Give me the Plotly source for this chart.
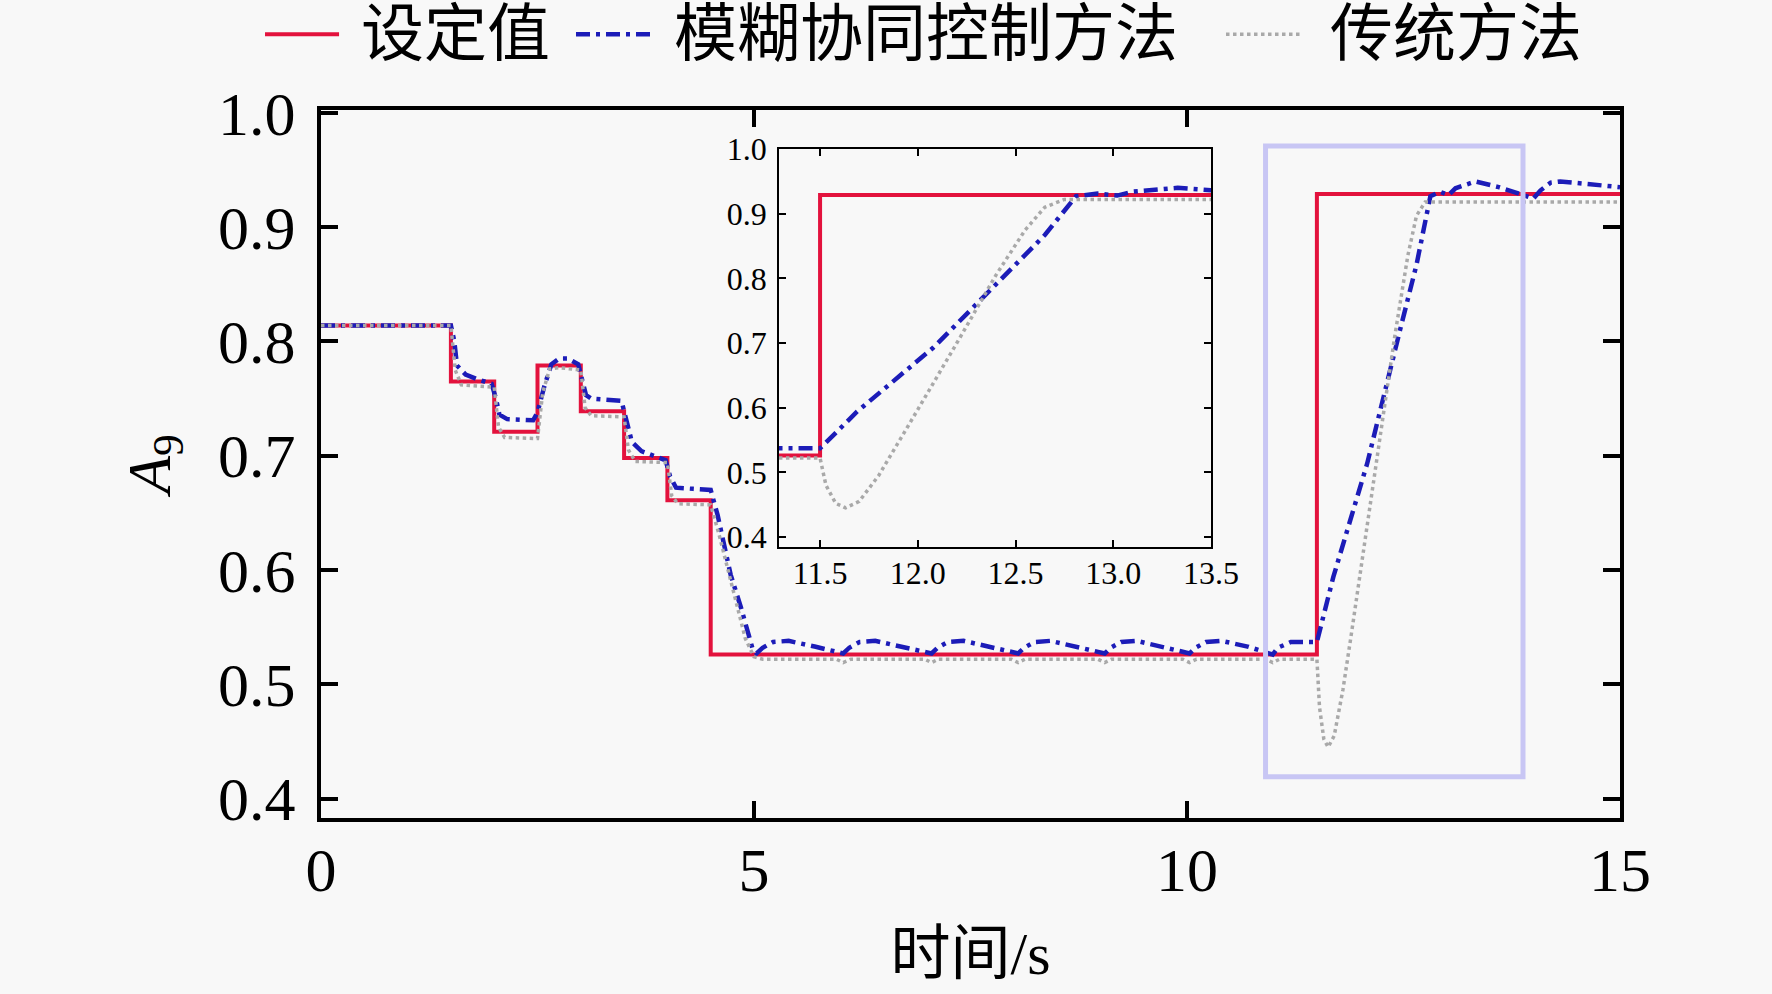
import plotly.graph_objects as go

# setpoint (piecewise constant)
set_t = [0, 1.5, 2.0, 2.5, 3.0, 3.5, 4.0, 4.5, 11.5, 15]
set_v = [0.814, 0.765, 0.721, 0.779, 0.739, 0.698, 0.661, 0.526, 0.929, 0.929]

# fuzzy cooperative control
fuzzy_t = [0, 1.5, 1.54, 1.57, 1.67, 1.8, 1.97, 2.02, 2.06, 2.15, 2.45, 2.5, 2.58, 2.66,
           2.75, 2.85, 2.97, 3.02, 3.06, 3.12, 3.47, 3.52, 3.59, 3.7, 3.85, 3.98, 4.03,
           4.1, 4.3, 4.5, 4.58, 4.73, 4.85, 4.98, 5.03, 5.1, 5.22, 5.4, 5.7, 6.03, 6.1,
           6.22, 6.4, 6.7, 7.05, 7.12, 7.24, 7.42, 7.72, 8.05, 8.12, 8.24, 8.42, 8.72,
           9.05, 9.12, 9.24, 9.42, 9.72, 10.03, 10.1, 10.22, 10.4, 10.7, 10.99, 11.05,
           11.2, 11.5, 11.69, 12.08, 12.46, 12.65, 12.81, 12.92, 13.02, 13.1, 13.33,
           13.6, 13.85, 14.0, 14.08, 14.2, 14.31, 14.6, 15.0]
fuzzy_v = [0.814, 0.814, 0.800, 0.779, 0.771, 0.767, 0.763, 0.750, 0.736, 0.732, 0.731,
           0.738, 0.761, 0.780, 0.785, 0.785, 0.780, 0.765, 0.753, 0.750, 0.748, 0.733,
           0.712, 0.704, 0.700, 0.696, 0.682, 0.672, 0.671, 0.670, 0.648, 0.596, 0.567,
           0.532, 0.527, 0.532, 0.537, 0.538, 0.533, 0.527, 0.532, 0.537, 0.538, 0.533,
           0.527, 0.532, 0.537, 0.538, 0.533, 0.527, 0.532, 0.537, 0.538, 0.533, 0.527,
           0.532, 0.537, 0.538, 0.533, 0.527, 0.532, 0.537, 0.538, 0.533, 0.526, 0.532,
           0.537, 0.537, 0.594, 0.693, 0.810, 0.867, 0.927, 0.931, 0.928, 0.934, 0.940,
           0.935, 0.929, 0.925, 0.932, 0.939, 0.940, 0.938, 0.935]

# traditional method
trad_t = [0, 1.5, 1.55, 1.62, 2.0, 2.05, 2.12, 2.5, 2.56, 2.64, 2.75, 3.0, 3.05, 3.12,
          3.5, 3.55, 3.63, 4.0, 4.05, 4.12, 4.5, 4.6, 4.75, 4.9, 5.0, 5.1, 5.95, 6.03,
          6.12, 6.97, 7.05, 7.13, 7.97, 8.05, 8.13, 8.97, 9.05, 9.13, 9.95, 10.03, 10.11,
          10.91, 10.99, 11.07, 11.5, 11.53, 11.58, 11.63, 11.7, 11.8, 11.9, 12.0, 12.2,
          12.4, 12.55, 12.65, 12.75, 15.0]
trad_v = [0.814, 0.814, 0.775, 0.762, 0.760, 0.725, 0.716, 0.715, 0.755, 0.776, 0.777,
          0.775, 0.742, 0.735, 0.734, 0.705, 0.695, 0.694, 0.665, 0.658, 0.657, 0.630,
          0.585, 0.540, 0.524, 0.522, 0.522, 0.519, 0.522, 0.522, 0.519, 0.522, 0.522,
          0.519, 0.522, 0.522, 0.519, 0.522, 0.522, 0.519, 0.522, 0.522, 0.519, 0.522,
          0.522, 0.480, 0.452, 0.445, 0.455, 0.495, 0.545, 0.597, 0.700, 0.805, 0.875,
          0.910, 0.922, 0.922]

x_ticks = [0, 5, 10, 15]
y_ticks = [0.4, 0.5, 0.6, 0.7, 0.8, 0.9, 1.0]
inset_x_ticks = [11.5, 12.0, 12.5, 13.0, 13.5]

names = ["设定值", "模糊协同控制方法", "传统方法"]

RED = "#e3123d"
BLUE = "#1c1cb8"
GRAY = "#a9a9a9"
BG = "#f8f8f8"
FONT = "Liberation Serif, Noto Sans CJK SC"

styles = [
    dict(color=RED, width=4, dash="solid"),
    dict(color=BLUE, width=4.5, dash="14px,6px,4px,6px"),
    dict(color=GRAY, width=3.5, dash="dot"),
]
series = [(set_t, set_v, "hv"), (fuzzy_t, fuzzy_v, "linear"), (trad_t, trad_v, "linear")]

fig = go.Figure()

for (xa, ya) in [("x", "y"), ("x2", "y2")]:
    for (t, v, shape), st, nm in zip(series, styles, names):
        fig.add_trace(go.Scatter(
            x=t, y=v, mode="lines", name=nm, showlegend=False,
            line=dict(color=st["color"], width=st["width"], dash=st["dash"], shape=shape),
            xaxis=xa, yaxis=ya,
        ))

# zoom window marker on the main plot
fig.add_shape(type="rect", xref="x", yref="y", x0=10.907, x1=13.88, y0=0.419, y1=0.971,
              line=dict(color="#c8c6f4", width=5), layer="above")

# hand-made legend with long line samples
leg_y = 1.107
leg_items = [(-0.0431, 0.0139, 0.0293), (0.1963, 0.2533, 0.2702), (0.6967, 0.7536, 0.7752)]
for (x0, x1, xt), st, nm in zip(leg_items, styles, names):
    fig.add_shape(type="line", xref="paper", yref="paper", x0=x0, x1=x1, y0=leg_y, y1=leg_y,
                  line=dict(color=st["color"], width=st["width"], dash=st["dash"]))
    fig.add_annotation(x=xt, y=leg_y, xref="paper", yref="paper", text=nm, showarrow=False,
                       xanchor="left", yanchor="middle",
                       font=dict(family=FONT, size=63, color="black"))

main_axis = dict(showgrid=False, zeroline=False, ticks="inside", ticklen=17, tickwidth=3.5,
                 tickcolor="black", showline=True, linewidth=4, linecolor="black",
                 mirror="ticks", tickfont=dict(family=FONT, size=62, color="black"))
inset_axis = dict(showgrid=False, zeroline=False, ticks="inside", ticklen=7, tickwidth=1.5,
                  tickcolor="black", showline=True, linewidth=2, linecolor="black",
                  mirror="ticks", tickfont=dict(family=FONT, size=32, color="black"))

fig.update_layout(
    width=1772, height=994,
    margin=dict(l=321, r=152, t=110, b=176),
    paper_bgcolor=BG, plot_bgcolor=BG,
    font=dict(family=FONT, color="black"),
    xaxis=dict(main_axis, range=[0, 15], tickvals=x_ticks, ticklabelstandoff=-5,
               title=dict(text="时间/s", font=dict(family=FONT, size=60), standoff=30)),
    yaxis=dict(main_axis, range=[0.383, 1.0025], tickvals=y_ticks, tickformat=".1f",
               ticklabelstandoff=9,
               title=dict(text="<i>A</i><sub>9</sub>", font=dict(family=FONT, size=62),
                          standoff=28)),
    xaxis2=dict(inset_axis, domain=[0.3526, 0.6851], anchor="y2", range=[11.29, 13.5],
                tickvals=inset_x_ticks, tickformat=".1f", ticklabelstandoff=-3),
    yaxis2=dict(inset_axis, domain=[0.3828, 0.9449], anchor="x2", range=[0.3845, 1.0],
                tickvals=y_ticks, tickformat=".1f", ticklabelstandoff=4),
)

fig.write_html("out.html", config={"displayModeBar": False},
               post_script="document.body.style.margin='0';")
